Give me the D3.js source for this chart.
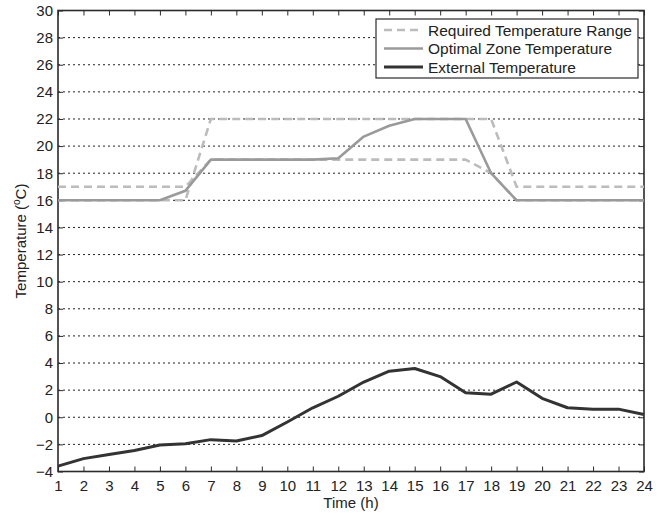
<!DOCTYPE html>
<html>
<head>
<meta charset="utf-8">
<script src="https://cdn.jsdelivr.net/npm/d3@7"></script>
<style>
  html, body { margin: 0; padding: 0; background: #fff; }
  svg { display: block; font-family: "Liberation Sans", Arial, Helvetica, sans-serif; }
</style>
</head>
<body>
<svg id="chart" width="667" height="515"></svg>
<script>
// Hourly temperatures over one day
const hours = d3.range(1, 25);
const rangeA = [17,17,17,17,17,17,19,19,19,19,19,19,19,19,19,19,19,18,16,16,16,16,16,16];
const rangeB = [16,16,16,16,16,16,22,22,22,22,22,22,22,22,22,22,22,22,17,17,17,17,17,17];
const optimal = [16,16,16,16,16,16.7,19,19,19,19,19,19.1,20.7,21.5,22,22,22,18,16,16,16,16,16,16];
const external = [-3.6,-3.05,-2.75,-2.45,-2.05,-1.95,-1.65,-1.75,-1.35,-0.35,0.7,1.55,2.6,3.4,3.6,3.0,1.8,1.7,2.6,1.4,0.7,0.6,0.6,0.2];
const yTicks = d3.range(-4, 31, 2);
const legendLabels = ["Required Temperature Range", "Optimal Zone Temperature", "External Temperature"];

const svg = d3.select("#chart");
const m = { left: 58, right: 644, top: 10.5, bottom: 471.5 };
const x = d3.scaleLinear().domain([1, 24]).range([m.left, m.right]);
const y = d3.scaleLinear().domain([-4, 30]).range([m.bottom, m.top]);
const axisColor = "#2b2b2b";
const fontSize = 15;

// horizontal dotted grid
svg.append("g")
  .selectAll("line")
  .data(yTicks.filter(t => t > -4 && t < 30))
  .join("line")
  .attr("x1", m.left).attr("x2", m.right)
  .attr("y1", d => y(d)).attr("y2", d => y(d))
  .attr("stroke", "#222").attr("stroke-width", 1)
  .attr("stroke-dasharray", "2,3");

// axes with inward ticks on all four sides
function styleAxis(g) {
  g.select(".domain").remove();
  g.selectAll(".tick line").attr("stroke", axisColor).attr("stroke-width", 1);
  g.selectAll(".tick text").attr("fill", "#222").attr("font-size", fontSize)
    .attr("font-family", "Liberation Sans, Arial, sans-serif");
}
svg.append("g").attr("transform", `translate(0,${m.bottom})`)
  .call(d3.axisBottom(x).tickValues(hours).tickSizeInner(-5).tickSizeOuter(0).tickPadding(9))
  .call(styleAxis);
svg.append("g").attr("transform", `translate(0,${m.top})`)
  .call(d3.axisTop(x).tickValues(hours).tickSizeInner(-5).tickSizeOuter(0).tickFormat(""))
  .call(styleAxis);
svg.append("g").attr("transform", `translate(${m.left},0)`)
  .call(d3.axisLeft(y).tickValues(yTicks).tickSizeInner(-5).tickSizeOuter(0).tickPadding(5)
        .tickFormat(d => d < 0 ? "\u2212" + Math.abs(d) : d))
  .call(styleAxis);
svg.append("g").attr("transform", `translate(${m.right},0)`)
  .call(d3.axisRight(y).tickValues(yTicks).tickSizeInner(-5).tickSizeOuter(0).tickFormat(""))
  .call(styleAxis);

// frame
svg.append("rect")
  .attr("x", m.left).attr("y", m.top)
  .attr("width", m.right - m.left).attr("height", m.bottom - m.top)
  .attr("fill", "none").attr("stroke", axisColor).attr("stroke-width", 1.6);

// series
const line = d3.line().x((d, i) => x(hours[i])).y(d => y(d));
const styles = [
  { data: rangeB, color: "#bcbcbc", width: 2.6, dash: "8,5" },
  { data: rangeA, color: "#bcbcbc", width: 2.6, dash: "8,5" },
  { data: optimal, color: "#9a9a9a", width: 2.6, dash: null },
  { data: external, color: "#333333", width: 3, dash: null }
];
svg.append("g").selectAll("path")
  .data(styles)
  .join("path")
  .attr("d", d => line(d.data))
  .attr("fill", "none")
  .attr("stroke", d => d.color)
  .attr("stroke-width", d => d.width)
  .attr("stroke-dasharray", d => d.dash)
  .attr("stroke-linejoin", "round");

// legend
const lg = svg.append("g").attr("transform", "translate(376,19)");
lg.append("rect").attr("width", 262).attr("height", 59)
  .attr("fill", "#fff").attr("stroke", axisColor).attr("stroke-width", 1.2);
const legendStyles = [styles[0], styles[2], styles[3]];
const rows = lg.selectAll("g.row").data(legendLabels).join("g")
  .attr("class", "row")
  .attr("transform", (d, i) => `translate(0,${11 + i * 18.5})`);
rows.append("line")
  .attr("x1", 8).attr("x2", 47)
  .attr("stroke", (d, i) => legendStyles[i].color)
  .attr("stroke-width", (d, i) => legendStyles[i].width)
  .attr("stroke-dasharray", (d, i) => legendStyles[i].dash);
rows.append("text")
  .attr("x", 52).attr("y", 5.5)
  .attr("font-size", 15.5).attr("fill", "#222")
  .text(d => d);

// axis titles
svg.append("text")
  .attr("x", (m.left + m.right) / 2).attr("y", 508)
  .attr("text-anchor", "middle").attr("font-size", fontSize).attr("fill", "#222")
  .text("Time (h)");
const yt = svg.append("text")
  .attr("transform", `translate(26,${(m.top + m.bottom) / 2}) rotate(-90)`)
  .attr("text-anchor", "middle").attr("font-size", fontSize).attr("fill", "#222");
yt.append("tspan").text("Temperature (");
yt.append("tspan").attr("font-size", 10).attr("dy", -6).text("o");
yt.append("tspan").attr("dy", 6).text("C)");
</script>
</body>
</html>
